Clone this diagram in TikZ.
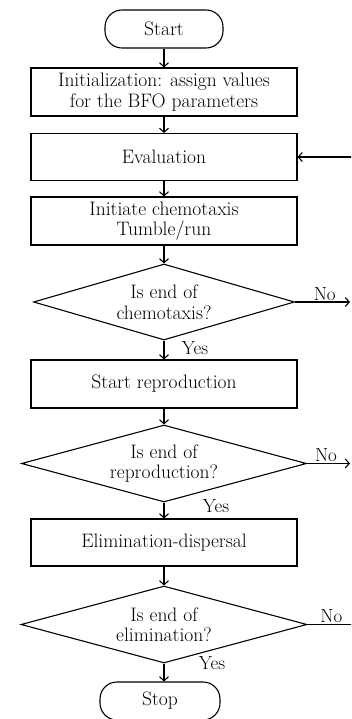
\documentclass[tikz,border=0pt]{standalone}
\usepackage{tikz}
\usetikzlibrary{arrows.meta, positioning, shapes.geometric}

\begin{document}
\begin{tikzpicture}[
    x=1pt, y=-1pt,
    font=\fontsize{19.5}{20.5}\selectfont,
    term/.style={
        rectangle, rounded corners=17pt, draw=black, line width=1.1pt,
        minimum width=118pt, minimum height=38pt, inner sep=0pt
    },
    proc/.style={
        rectangle, draw=black, line width=1.1pt, align=center,
        minimum width=266pt, minimum height=48pt, inner sep=0pt
    },
    decide/.style={
        diamond, draw=black, line width=1.1pt, align=center,
        aspect=3.5, inner sep=0pt
    },
    flow/.style={-{Straight Barb[length=4pt,width=9pt]}, draw=black, line width=1.1pt},
    lbl/.style={font=\fontsize{19}{19}\selectfont, inner sep=1pt}
]
\useasboundingbox (0,0) rectangle (351,719);
\clip (0,0) rectangle (351,719);

\node[term] (start) at (164,29)  {Start};
\node[proc] (init)  at (164,92)  {Initialization: assign values\\for the BFO parameters};
\node[proc, minimum height=47pt] (eval) at (164,157) {Evaluation};
\node[proc] (chemo) at (164,221) {Initiate chemotaxis\\Tumble/run};
\node[decide, minimum width=261pt, minimum height=76pt] (d1) at (164,302) {Is end of\\chemotaxis?};
\node[proc] (repro) at (164,384) {Start reproduction};
\node[decide, minimum width=285pt, minimum height=77pt] (d2) at (164,463.5) {Is end of\\reproduction?};
\node[proc, minimum height=47pt] (elim) at (164,542.5) {Elimination-dispersal};
\node[decide, minimum width=286pt, minimum height=77pt] (d3) at (164,624.5) {Is end of\\elimination?};
\node[term, minimum width=120pt] (stop) at (160,701) {Stop};

% main flow
\foreach \a/\b in {start/init, init/eval, eval/chemo, chemo/d1, d1/repro,
                   repro/d2, d2/elim, elim/d3}
  \draw[flow] (\a) -- (\b);
\draw[flow] (d3.south) -- (d3.south |- stop.north);

% loop ends at the right border
\coordinate (evalin) at (353,157);
\coordinate (d1out)  at (350,302);
\coordinate (d2out)  at (350,463.5);
\coordinate (d3out)  at (357,624.5);
\draw[flow] (evalin) -- (eval.east);
\foreach \d/\p in {d1/0.54, d2/0.44, d3/0.48}
  \draw[flow] (\d.east) -- node[lbl, above, pos=\p] {No} (\d out);

\node[lbl] (y1) at (195,348) {Yes};
\node[lbl] (y2) at (216,506) {Yes};
\node[lbl] (y3) at (212,663) {Yes};
\end{tikzpicture}
\end{document}
